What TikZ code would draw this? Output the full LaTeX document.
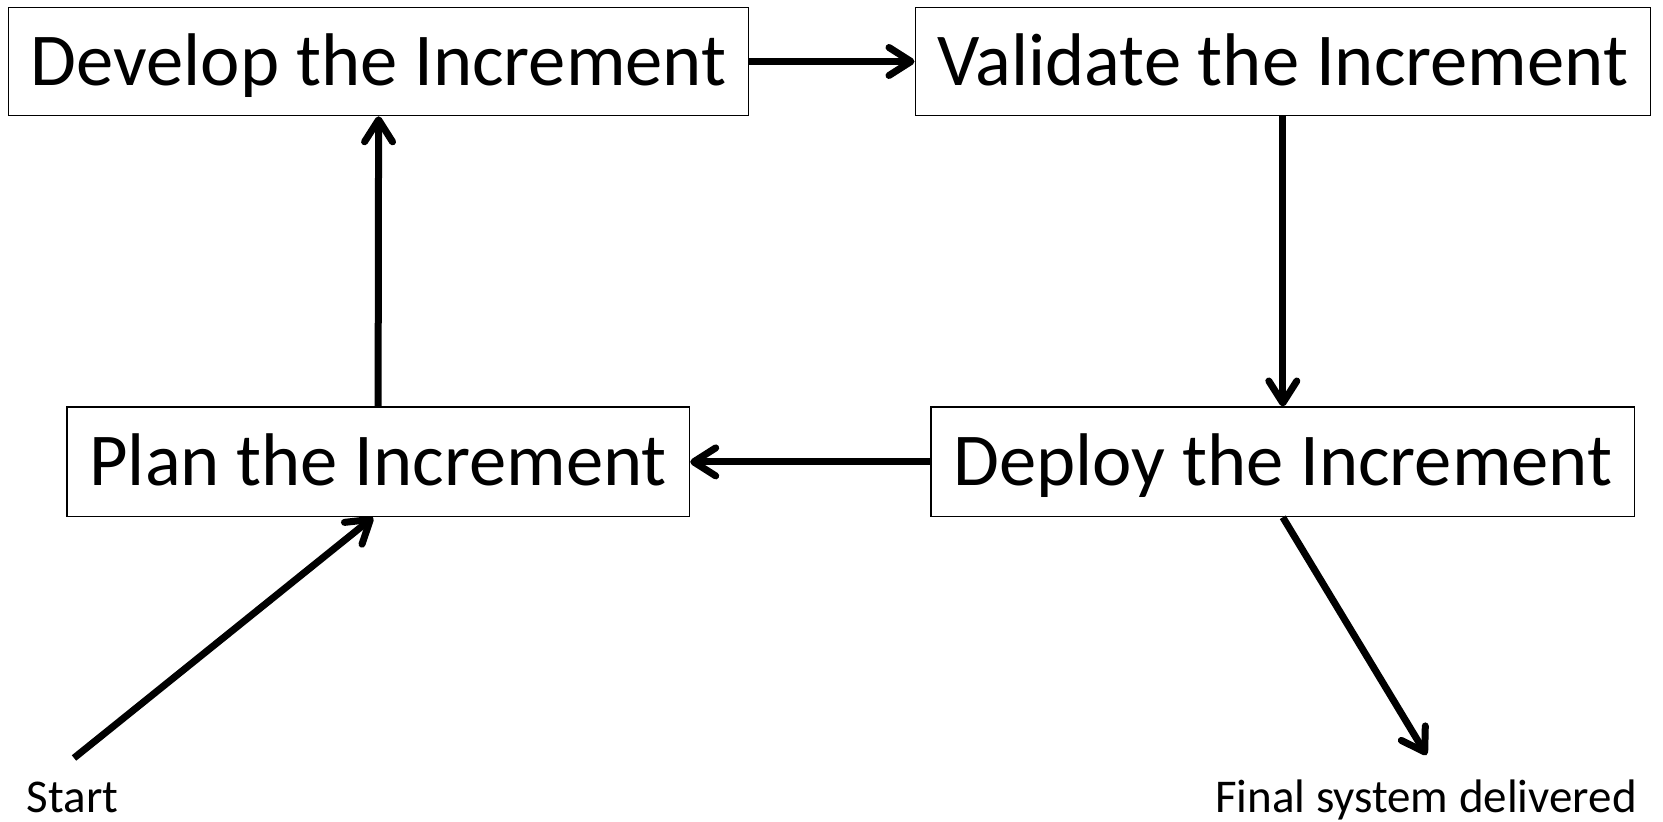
\documentclass[tikz,border=0pt]{standalone}
\usepackage{fontspec}
\setmainfont{Carlito}
\usetikzlibrary{arrows.meta}
\begin{document}
\begin{tikzpicture}[x=0.5pt,y=-0.5pt,
  stage/.style={draw, line width=0.8pt, inner sep=0pt, minimum height=54pt,
    font=\fontsize{37.3}{44}\selectfont, text height=24pt, text depth=0pt},
  flow/.style={line width=3.5pt, -{Straight Barb[round, length=11pt, width=14pt]}},
  note/.style={font=\fontsize{23.5}{28}\selectfont, inner sep=0pt}]
\useasboundingbox (0,0) rectangle (1663,822);

% the four stages of the increment cycle
\node[stage, minimum width=370pt] (dev) at (378.6,61.5) {Develop the Increment};
\node[stage, minimum width=367.5pt] (val) at (1282.8,61.5) {Validate the Increment};
\node[stage, minimum width=311.3pt, minimum height=54.6pt] (plan) at (378.1,461.9) {Plan the Increment};
\node[stage, minimum width=351.6pt, minimum height=54.6pt] (dep) at (1282.8,461.9) {Deploy the Increment};

% cycle connectors
\draw[flow] (dev.east) -- (val.west);
\draw[flow] (val.south) -- (dep.north);
\draw[flow] (dep.west) -- (plan.east);
\draw[flow] (plan.north) -- (dev.south);

% entry and exit
\coordinate (s0) at (74,758);
\coordinate (f1) at (1426.5,755);
\draw[flow] (s0) -- ([xshift=-2.5pt]plan.south);
\draw[flow] (dep.south) -- (f1);

\node[note, anchor=base west] (start) at (26.5,812) {Start};
\node[note, anchor=base] (final) at (1426,812) {Final system delivered};
\end{tikzpicture}
\end{document}
